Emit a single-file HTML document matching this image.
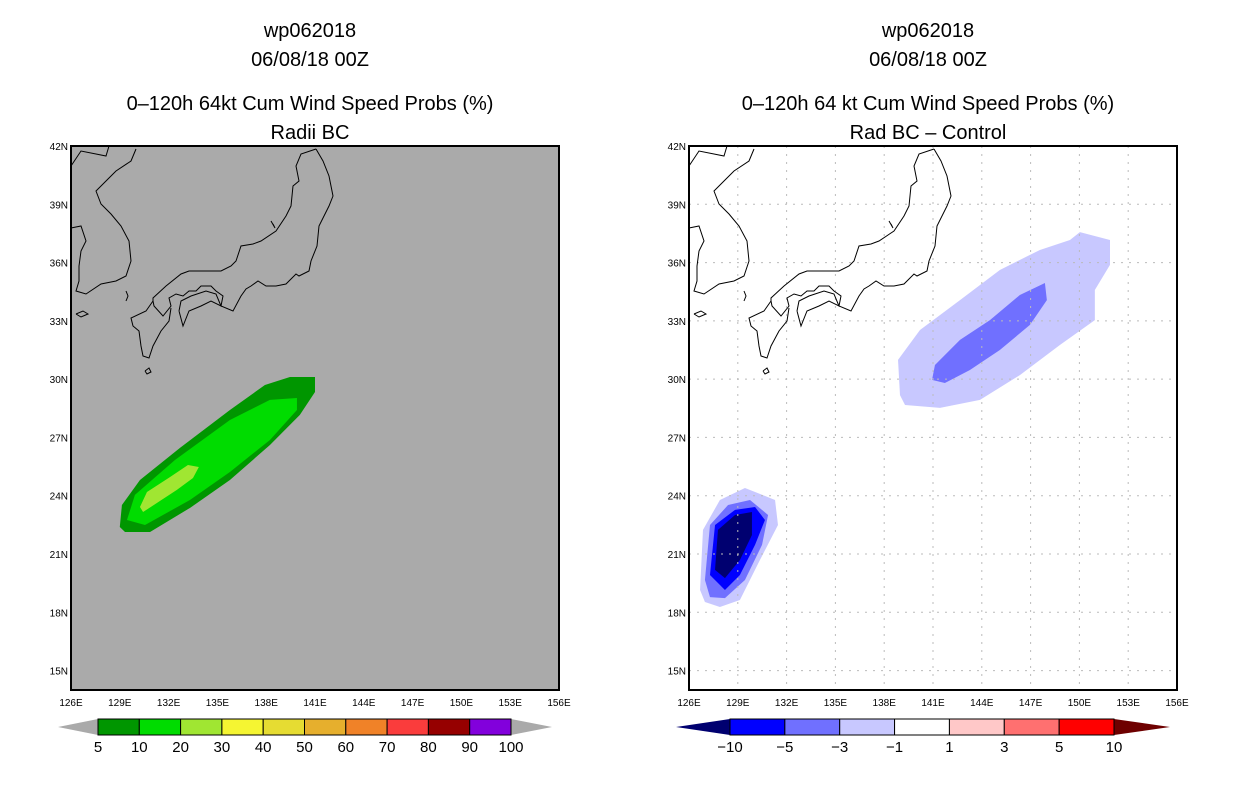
<!DOCTYPE html>
<html><head><meta charset="utf-8"><style>
body{margin:0;background:#fff;font-family:"Liberation Sans",sans-serif}
svg text{font-family:"Liberation Sans",sans-serif}
</style></head><body>
<svg id="c" width="1236" height="800" xmlns="http://www.w3.org/2000/svg">
<g font-size="20" text-anchor="middle" fill="#000">
<text x="310" y="37">wp062018</text><text x="310" y="66">06/08/18 00Z</text>
<text x="310" y="110">0–120h 64kt Cum Wind Speed Probs (%)</text><text x="310" y="139">Radii BC</text></g>
<g font-size="20" text-anchor="middle" fill="#000">
<text x="928" y="37">wp062018</text><text x="928" y="66">06/08/18 00Z</text>
<text x="928" y="110">0–120h 64 kt Cum Wind Speed Probs (%)</text><text x="928" y="139">Rad BC – Control</text></g>
</svg>
<script>
const lonTicks=[126,129,132,135,138,141,144,147,150,153,156];
const latTicks=[15,18,21,24,27,30,33,36,39,42];
// left panel probability contours (lon,lat)
const leftLevel5=[[129.0,22.39],[129.13,23.52],[130.24,24.81],[132.7,26.46],[135.77,28.41],[137.92,29.7],[139.46,30.11],[141.0,30.11],[141.0,29.34],[140.07,28.16],[138.23,26.61],[135.77,24.81],[133.31,23.37],[130.86,22.13],[129.32,22.13]];
const leftLevel10=[[129.44,22.75],[129.93,24.04],[132.39,25.84],[135.77,27.9],[138.23,28.93],[139.89,29.03],[139.89,28.41],[138.23,26.87],[135.77,25.22],[133.31,23.78],[130.55,22.49]];
const leftLevel20=[[130.24,23.42],[130.67,24.19],[132.08,24.96],[133.19,25.58],[133.86,25.48],[133.5,24.91],[132.51,24.3],[131.29,23.63],[130.43,23.16]];
// right panel difference contours
const rightNE3=[[138.97,29.18],[138.85,30.99],[140.2,32.53],[142.66,34.07],[145.11,35.62],[147.57,36.65],[149.42,37.16],[150.03,37.57],[151.88,37.16],[151.88,35.88],[150.95,34.59],[150.95,33.04],[148.8,31.76],[146.34,30.21],[143.89,28.93],[141.43,28.52],[139.28,28.67]];
const rightNE5=[[140.94,29.96],[141.12,30.73],[142.66,32.02],[144.5,33.04],[146.34,34.33],[147.88,34.95],[148.0,34.07],[146.96,32.79],[145.11,31.5],[143.27,30.47],[141.73,29.8]];
const rightSW3=[[126.68,19.15],[126.86,22.24],[127.9,23.78],[129.44,24.4],[131.29,23.78],[131.47,22.49],[130.36,20.69],[129.13,18.63],[127.9,18.27],[126.98,18.53]];
const rightSW5=[[126.98,19.66],[127.29,22.49],[128.4,23.52],[129.75,23.78],[130.86,23.01],[130.49,21.47],[129.44,19.66],[128.21,18.73],[127.29,18.78]];
const rightSW10=[[127.29,19.92],[127.6,22.49],[128.83,23.27],[130.06,23.42],[130.67,22.75],[130.06,21.47],[129.13,19.92],[128.21,19.15]];
const rightSWmax=[[127.6,20.18],[127.78,22.24],[128.83,23.01],[129.87,23.16],[129.87,21.98],[129.13,20.69],[128.21,19.76]];
const leftCbLabels=["5","10","20","30","40","50","60","70","80","90","100"];
const leftCbColors=["#009600","#00dc00","#a0e632","#f5f532","#e6dc32","#e6af2d","#f08228","#fa3c3c","#960000","#8200dc"];
const rightCbLabels=["−10","−5","−3","−1","1","3","5","10"];
const rightCbColors=["#0000ff","#7070ff","#c8c8ff","#ffffff","#ffc8c8","#ff7070","#ff0000"];
// coastline (pixel offsets within map, decorative)
const coast=[
[[245,3],[252,15],[258,30],[262,50],[258,60],[252,72],[248,80],[246,100],[240,115],[238,125],[228,130],[225,128],[215,138],[205,140],[195,140],[187,135],[180,140],[175,143],[170,150],[162,165],[150,160],[152,150],[145,145],[140,140],[130,140],[125,145],[118,145],[112,150],[105,148],[98,152],[100,160],[92,170],[83,160],[82,155],[82,152],[95,140],[110,128],[118,125],[130,125],[150,125],[160,120],[165,115],[170,100],[182,98],[190,95],[205,85],[215,70],[220,60],[222,40],[228,35],[225,20],[230,8],[245,3]],
[[82,155],[75,165],[60,172],[62,180],[68,185],[70,200],[72,210],[78,212],[82,200],[90,185],[98,175],[100,162]],
[[108,165],[112,180],[118,165],[130,160],[140,155],[150,160],[145,148],[135,145],[120,150],[110,155],[108,165]],
[[0,82],[10,80],[15,95],[10,105],[8,120],[8,135],[5,145],[15,148],[30,138],[45,135],[55,130],[60,115],[58,95],[50,80],[40,68],[30,58],[25,45],[35,35],[45,25],[60,15],[65,3]],
[[0,20],[10,5],[25,8],[35,10],[38,0]],
[[5,168],[12,165],[17,168],[10,171],[5,168]],
[[55,145],[57,150],[55,155]],[[200,75],[204,82],[202,78]],[[74,225],[78,222],[80,226],[76,228],[74,225]]];
const NS="http://www.w3.org/2000/svg",svg=document.getElementById('c');
function el(t,a,p){const e=document.createElementNS(NS,t);for(const k in a)e.setAttribute(k,a[k]);(p||svg).appendChild(e);return e;}
const W=488,H=544;
function panel(x0,bg,grid,name){
 const g=el('g',{});
 
 
 const X=l=>x0+(l-126)/30*W, Y=l=>146+(42-l)/28*H;
 el('rect',{x:x0,y:146,width:W,height:H,fill:bg},g);
 const fn={X,Y,g,poly:(pts,fill,n)=>{const p=el('polygon',{points:pts.map(q=>X(q[0])+','+Y(q[1])).join(' '),fill},g);}};
 fn.after=()=>{
  if(grid){lonTicks.slice(1,-1).forEach(l=>el('line',{x1:X(l),x2:X(l),y1:146,y2:146+H,stroke:'#bbb','stroke-dasharray':'2,6'},g));
   latTicks.slice(0,-1).forEach(l=>el('line',{y1:Y(l),y2:Y(l),x1:x0,x2:x0+W,stroke:'#bbb','stroke-dasharray':'2,6'},g));}
  coast.forEach(c=>{const p=el('polyline',{points:c.map(q=>(x0+q[0])+','+(146+q[1])).join(' '),fill:'none',stroke:'#000','stroke-width':1},g);});
  el('rect',{x:x0,y:146,width:W,height:H,fill:'none',stroke:'#000','stroke-width':2},g);
  lonTicks.forEach(l=>{const t=el('text',{x:X(l),y:706,'font-size':10,'text-anchor':'middle'},g);t.textContent=l+'E';});
  latTicks.forEach(l=>{const t=el('text',{x:x0-3,y:Y(l)+4,'font-size':10,'text-anchor':'end'},g);t.textContent=l+'N';});
 };
 return fn;
}
const L=panel(71,'#aaaaaa',false,'left-map');
L.poly(leftLevel5,'#009600','prob-5-10');L.poly(leftLevel10,'#00dc00','prob-10-20');L.poly(leftLevel20,'#a0e632','prob-20-30');L.after();
const R=panel(689,'#ffffff',true,'right-map');
R.poly(rightNE3,'#c8c8ff','diff-ne-3');R.poly(rightNE5,'#7070ff','diff-ne-5');
R.poly(rightSW3,'#c8c8ff','diff-sw-3');R.poly(rightSW5,'#7070ff','diff-sw-5');R.poly(rightSW10,'#0000ff','diff-sw-10');R.poly(rightSWmax,'#000070','diff-sw-max');R.after();
function colorbar(tip0,b0,b1,tip1,cols,labs,lc,rc,name){
 const g=el('g',{});
 
 
 const y0=719,y1=735,ym=727,w=(b1-b0)/cols.length;
 el('polygon',{points:`${tip0},${ym} ${b0},${y0} ${b0},${y1}`,fill:lc},g);
 el('polygon',{points:`${tip1},${ym} ${b1},${y0} ${b1},${y1}`,fill:rc},g);
 cols.forEach((c,i)=>el('rect',{x:b0+i*w,y:y0,width:w,height:y1-y0,fill:c,stroke:'#000'},g));
 labs.forEach((s,i)=>{const t=el('text',{x:b0+i*w,y:752,'font-size':15,'text-anchor':'middle'},g);t.textContent=s;});
}
colorbar(58,98,511,552,leftCbColors,leftCbLabels,'#aaaaaa','#aaaaaa','left-colorbar');
colorbar(676,730,1114,1170,rightCbColors,rightCbLabels,'#000070','#6e0000','right-colorbar');
</script>
</body></html>
